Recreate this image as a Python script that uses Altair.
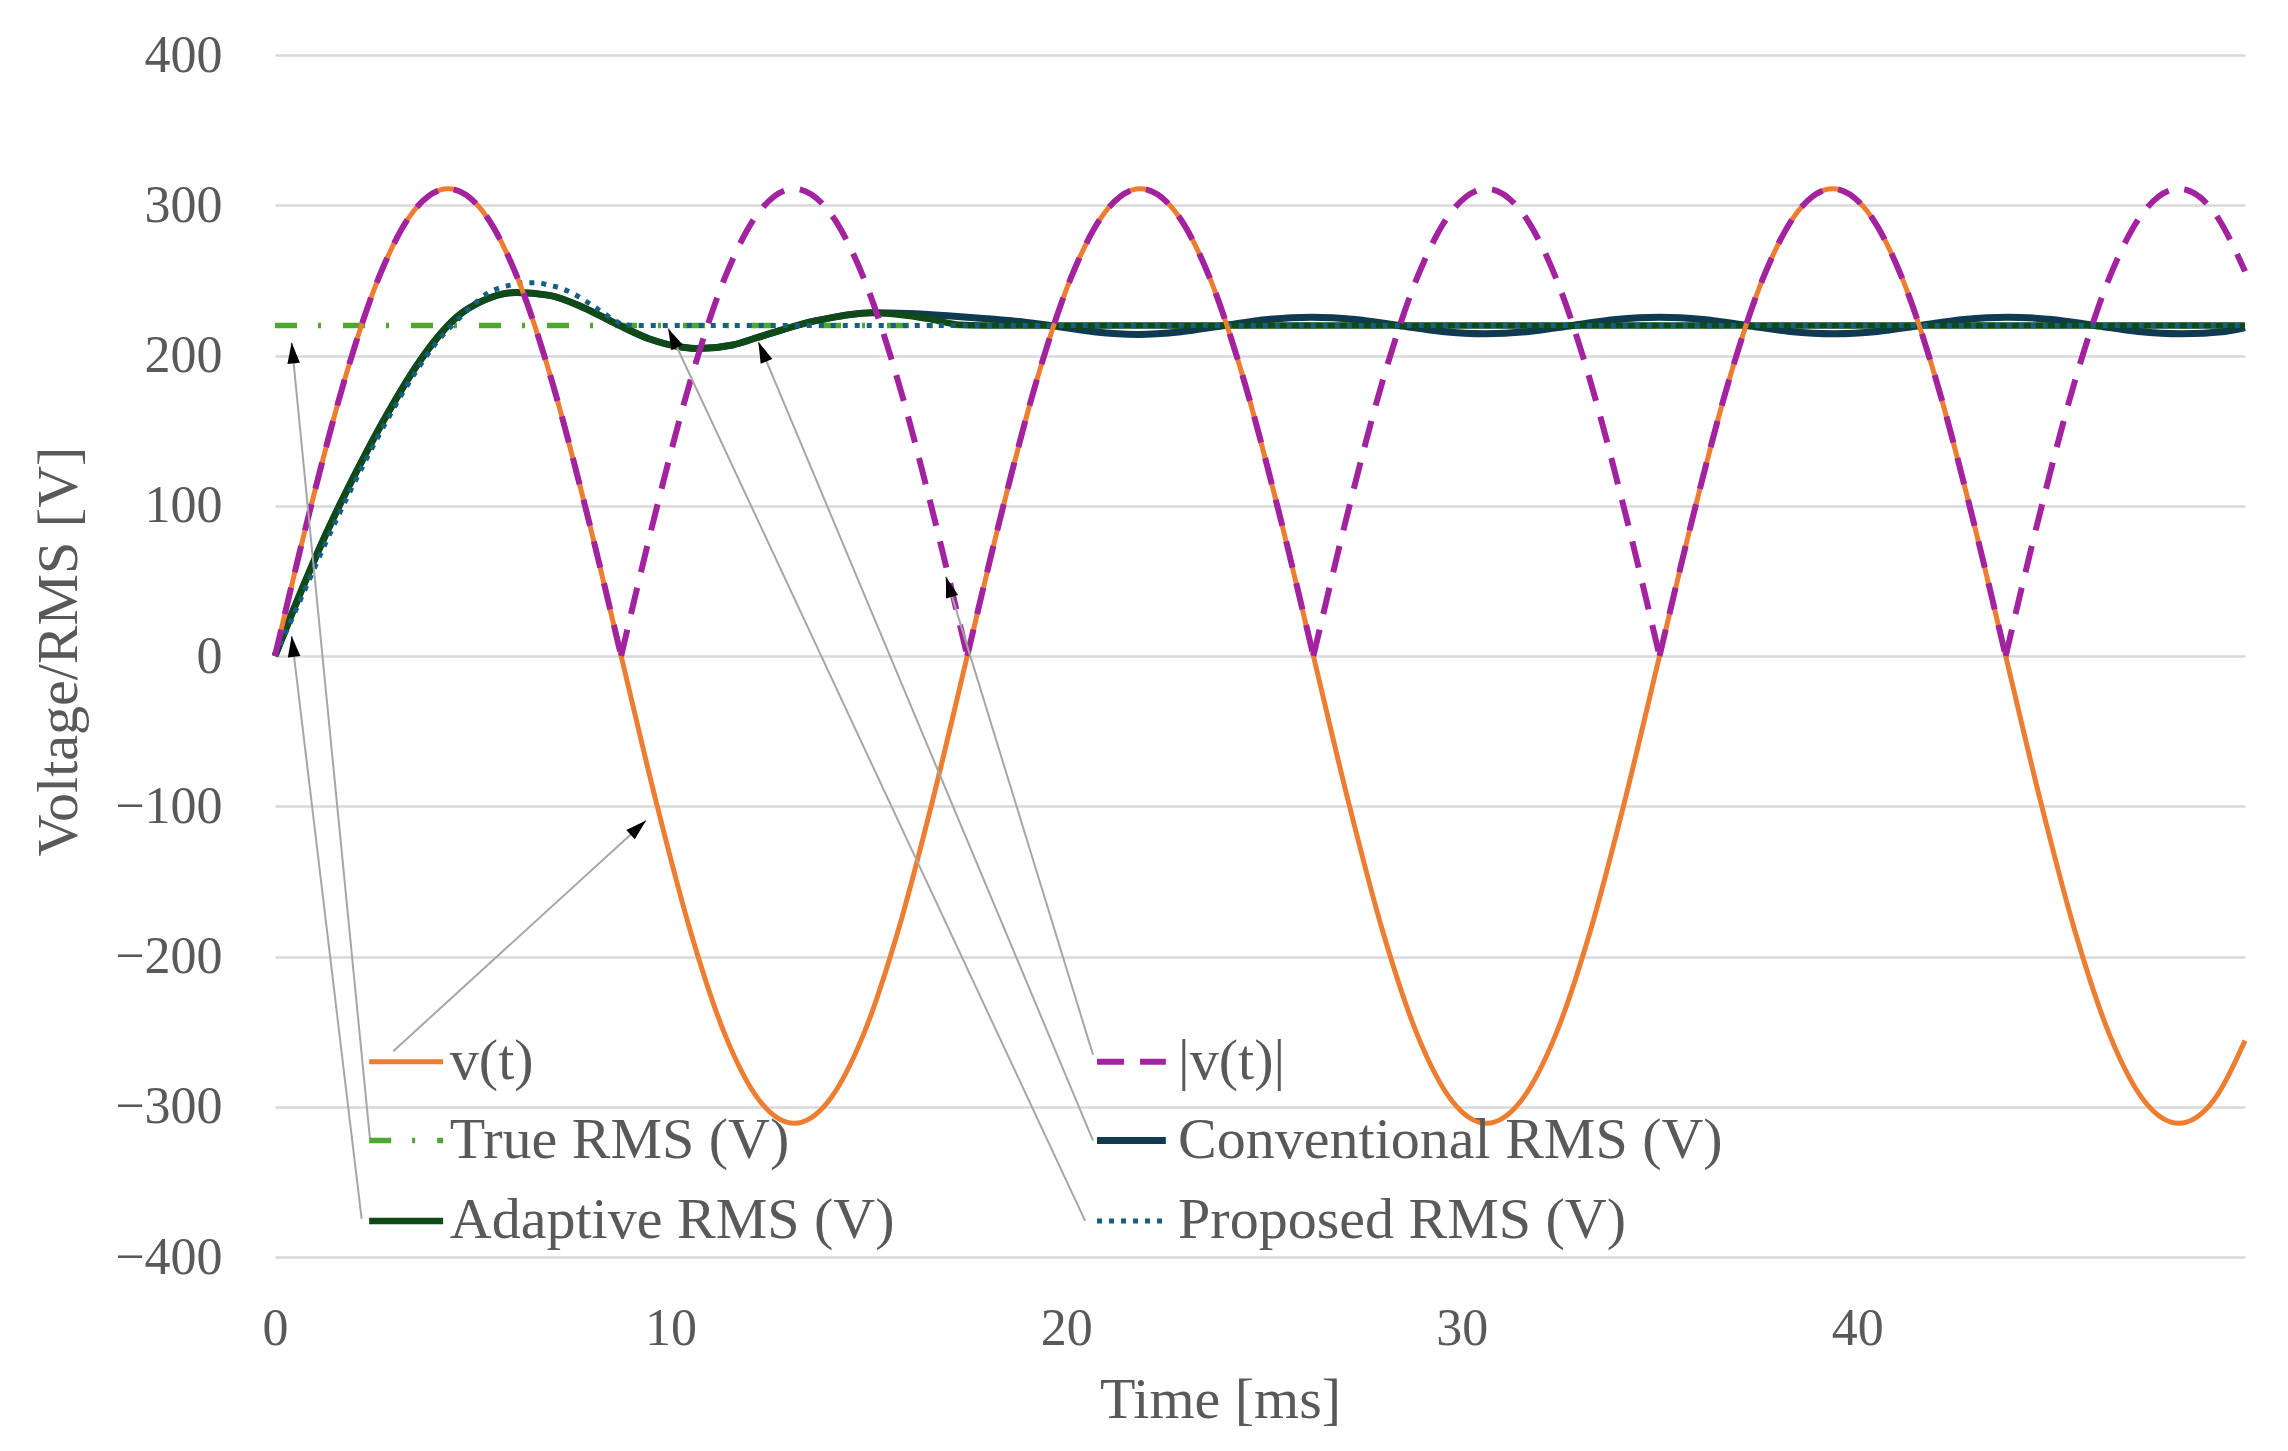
import math
import altair as alt
import pandas as pd

# ---------------- data ----------------
T_V = [0, 0.875, 1.75, 2.625, 3.5, 4.375, 5.25, 6.125, 7.0, 7.875,
       8.75, 9.625, 10.5, 11.375, 12.25, 13.125, 14.0, 14.875, 15.75, 16.625,
       17.5, 18.375, 19.25, 20.125, 21.0, 21.875, 22.75, 23.625, 24.5, 25.375,
       26.25, 27.125, 28.0, 28.875, 29.75, 30.625, 31.5, 32.375, 33.25, 34.125,
       35.0, 35.875, 36.75, 37.625, 38.5, 39.375, 40.25, 41.125, 42.0, 42.875,
       43.75, 44.625, 45.5, 46.375, 47.25, 48.125, 49.0, 49.8]
V_T = [0, 96, 183, 252, 296, 311, 296, 252, 183, 96,
       0, -96, -183, -252, -296, -311, -296, -252, -183, -96,
       0, 96, 183, 252, 296, 311, 296, 252, 183, 96,
       0, -96, -183, -252, -296, -311, -296, -252, -183, -96,
       0, 96, 183, 252, 296, 311, 296, 252, 183, 96,
       0, -96, -183, -252, -296, -311, -296, -256]
ABS_V = [0, 96, 183, 252, 296, 311, 296, 252, 183, 96,
         0, 96, 183, 252, 296, 311, 296, 252, 183, 96,
         0, 96, 183, 252, 296, 311, 296, 252, 183, 96,
         0, 96, 183, 252, 296, 311, 296, 252, 183, 96,
         0, 96, 183, 252, 296, 311, 296, 252, 183, 96,
         0, 96, 183, 252, 296, 311, 296, 256]

T_TRUE = [0, 49.8]
V_TRUE = [220, 220]

T_ADP = [0, 0.45, 0.88, 1.25, 1.64, 2.31, 2.9, 3.58, 4.08, 4.59, 5.26, 6.1,
         6.94, 7.79, 8.63, 9.47, 10.3, 10.7, 11.57, 12.2, 13.65, 15.1, 16.0,
         16.6, 17.3, 17.9, 49.8]
V_ADP = [0, 29.7, 56.8, 79, 100.8, 135.6, 163.9, 193.2, 211.2, 225.5, 236.5, 242,
         240, 232, 221, 211, 205.5, 204.6, 207, 212, 223, 228.5, 226.5,
         224, 220.5, 220, 220]

T_CONV = [0, 0.45, 0.88, 1.25, 1.64, 2.31, 2.9, 3.58, 4.08, 4.59, 5.26, 6.1,
          6.94, 7.79, 8.63, 9.47, 10.3, 10.7, 11.57, 12.2, 13.65, 15.1, 16.0,
          17.0, 18.0, 19.0, 19.6, 20.7, 21.8, 22.9, 24.0, 25.1, 26.2, 27.3,
          28.4, 29.5, 30.6, 31.7, 32.8, 33.9, 35.0, 36.1, 37.2, 38.3, 39.4,
          40.5, 41.6, 42.7, 43.8, 44.9, 46.0, 47.1, 48.2, 49.3, 49.8]
V_CONV = [0, 29.7, 56.8, 79, 100.8, 135.6, 163.9, 193.2, 211.2, 225.5, 236.5, 242,
          240, 232, 221, 211, 205.5, 204.6, 207, 212, 223, 228.5, 228,
          226.5, 224.5, 222, 220, 215.8, 214, 215.8, 220, 224, 225.5, 224,
          220, 216, 214.5, 216, 220, 224, 225.5, 224, 220, 216, 214.5,
          216, 220, 224, 225.5, 224, 220, 216, 214.5, 216, 218.5]

T_PRO = [0, 0.45, 0.88, 1.25, 1.64, 2.31, 2.9, 3.58, 4.08, 4.59, 5.0, 5.39,
         5.68, 5.98, 6.27, 6.59, 6.9, 7.2, 7.49, 7.79, 8.04, 8.3, 8.55, 8.8,
         9.1, 49.8]
V_PRO = [0, 26, 51.5, 73.5, 95.5, 131, 160, 190, 208.5, 223, 233.5, 241.8,
         245, 247, 248.4, 248.4, 247, 245, 241.8, 237.3, 232.9, 228.4, 224,
         220.7, 220, 220]

X_TICKS = [0, 10, 20, 30, 40]
Y_TICKS = [-400, -300, -200, -100, 0, 100, 200, 300, 400]

LABELS = ["v(t)", "|v(t)|", "True RMS (V)", "Conventional RMS (V)",
          "Adaptive RMS (V)", "Proposed RMS (V)"]

# annotation arrows: legend entry -> curve (tail t, tail v, head t, head v)
ARROW_TAIL_T = [2.99, 20.68, 2.40, 20.68, 2.19, 20.48]
ARROW_TAIL_V = [-263, -265.5, -321, -322.5, -374.7, -376]
ARROW_HEAD_T = [9.38, 16.96, 0.42, 12.22, 0.42, 9.94]
ARROW_HEAD_V = [-109.5, 52.8, 208.6, 209, 13.3, 218]

# ---------------- layout / styles ----------------
W, H = 1970, 1202
XDOM = [0, 49.8]
YDOM = [-400, 400]
FONT = "Liberation Serif"
GRAY = "#595959"

STYLE = {
    "v(t)": dict(color="#ED7D31", strokeWidth=5),
    "|v(t)|": dict(color="#A3229F", strokeWidth=6, strokeDash=[27, 16]),
    "True RMS (V)": dict(color="#4EA72E", strokeWidth=5.5, strokeDash=[22, 21, 3, 22]),
    "Conventional RMS (V)": dict(color="#0E3A52", strokeWidth=7),
    "Adaptive RMS (V)": dict(color="#0F4A17", strokeWidth=6.5),
    "Proposed RMS (V)": dict(color="#156082", strokeWidth=5, strokeDash=[5, 7]),
}

# legend placement (data coordinates)
LEG_ROWS = [-270, -322.5, -376]
LEG_COLS = [(2.38, 4.25, 4.42), (20.78, 22.52, 22.83)]

xs = alt.Scale(domain=XDOM, nice=False, zero=False)
ys = alt.Scale(domain=YDOM, nice=False, zero=False)
xax = alt.Axis(values=X_TICKS, grid=False, labelPadding=46, labelFlush=False,
               title="Time [ms]", titleX=945, titleY=143,
               titleAlign="center", titleBaseline="middle")
yax = alt.Axis(values=Y_TICKS, grid=True, labelPadding=53, labelFlush=False,
               title="Voltage/RMS [V]", titleX=-216, titleY=596, titleAngle=270,
               titleAlign="center", titleBaseline="middle")


def X(f):
    return alt.X(f, type="quantitative", scale=xs, axis=xax)


def Y(f):
    return alt.Y(f, type="quantitative", scale=ys, axis=yax)


def line_layer(t, v, name, split_at_zero=False):
    rows = []
    seg = 0
    for i, (ti, vi) in enumerate(zip(t, v)):
        rows.append({"t": ti, "v": vi, "seg": seg})
        if split_at_zero and i > 0 and vi == 0:
            seg += 1
            rows.append({"t": ti, "v": vi, "seg": seg})
    df = pd.DataFrame(rows)
    st = dict(STYLE[name])
    ch = alt.Chart(df).mark_line(interpolate="monotone", strokeCap="butt",
                                 strokeJoin="round", **st)
    enc = dict(x=X("t"), y=Y("v"))
    if split_at_zero:
        enc["detail"] = alt.Detail("seg:N")
    return ch.encode(**enc)


layers = []
# RMS curves first, signal on top
layers.append(line_layer(T_TRUE, V_TRUE, "True RMS (V)"))
layers.append(line_layer(T_CONV, V_CONV, "Conventional RMS (V)"))
layers.append(line_layer(T_ADP, V_ADP, "Adaptive RMS (V)"))
layers.append(line_layer(T_PRO, V_PRO, "Proposed RMS (V)"))
layers.append(line_layer(T_V, V_T, "v(t)"))
layers.append(line_layer(T_V, ABS_V, "|v(t)|", split_at_zero=True))

# arrows
kx = W / (XDOM[1] - XDOM[0])
ky = H / (YDOM[1] - YDOM[0])
angs = []
for t0, v0, t1, v1 in zip(ARROW_TAIL_T, ARROW_TAIL_V, ARROW_HEAD_T, ARROW_HEAD_V):
    dx = (t1 - t0) * kx
    dy = -(v1 - v0) * ky
    angs.append(math.degrees(math.atan2(dx, -dy)) % 360)
adf = pd.DataFrame({"t0": ARROW_TAIL_T, "v0": ARROW_TAIL_V,
                    "t1": ARROW_HEAD_T, "v1": ARROW_HEAD_V, "ang": angs})
layers.append(alt.Chart(adf).mark_rule(color="#A6A6A6", strokeWidth=2).encode(
    x=X("t0"), y=Y("v0"), x2=alt.X2("t1"), y2=alt.Y2("v1")))
layers.append(alt.Chart(adf).mark_point(
    shape="M0,0L0.6,2L-0.6,2Z", filled=True, color="black", opacity=1,
    size=441, strokeWidth=0).encode(
    x=X("t1"), y=Y("v1"), angle=alt.Angle("ang:Q", scale=None)))

# legend
text_rows = []
for i, name in enumerate(LABELS):
    row = LEG_ROWS[i // 2]
    c0, c1, ct = LEG_COLS[i % 2]
    ldf = pd.DataFrame({"t0": [c0], "t1": [c1], "v": [row]})
    layers.append(alt.Chart(ldf).mark_rule(strokeCap="butt", **STYLE[name]).encode(
        x=X("t0"), x2=alt.X2("t1"), y=Y("v")))
    text_rows.append({"t": ct, "v": row, "label": name})
tdf = pd.DataFrame(text_rows)
layers.append(alt.Chart(tdf).mark_text(
    align="left", baseline="middle", font=FONT, fontSize=58, color=GRAY).encode(
    x=X("t"), y=Y("v"), text="label:N"))

chart = alt.layer(*layers).properties(
    width=W, height=H,
    autosize=alt.AutoSizeParams(type="none"),
    padding={"left": 267, "top": 47, "right": 35, "bottom": 180},
    background="white",
).configure_view(strokeWidth=0).configure_axis(
    labelFont=FONT, labelFontSize=52, labelColor=GRAY,
    titleFont=FONT, titleFontSize=58, titleColor=GRAY, titleFontWeight="normal",
    gridColor="#D9D9D9", gridWidth=2.5, domain=False, ticks=False,
)

chart.save("out.html", embed_options={"renderer": "svg", "actions": False})
